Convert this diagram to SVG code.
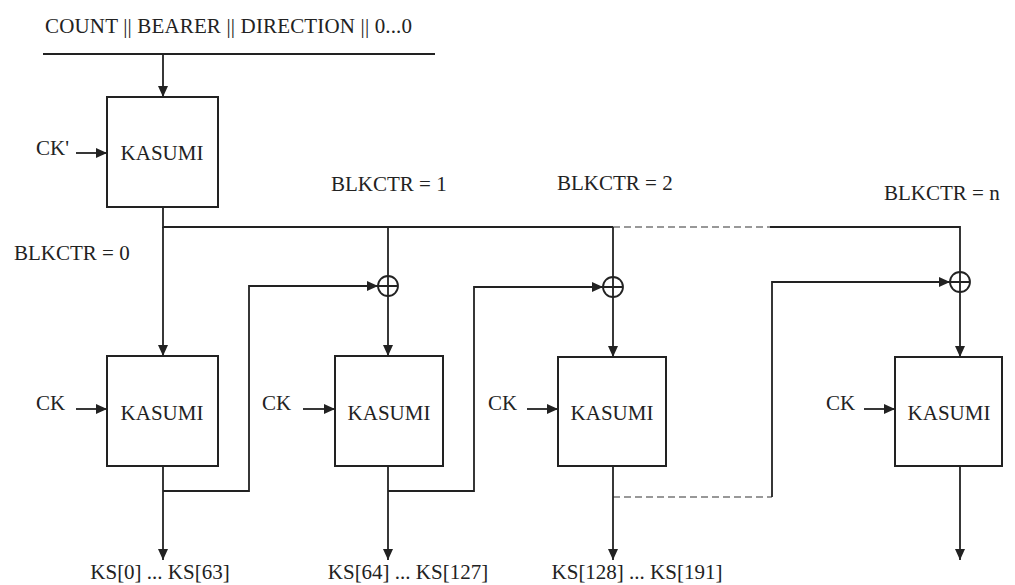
<svg xmlns="http://www.w3.org/2000/svg" width="1015" height="585" viewBox="0 0 1015 585">
<style>
svg text, text, .t{font-family:"Liberation Serif","Times New Roman",serif !important;font-size:21px;fill:#222}
.box{fill:#fff;stroke:#222;stroke-width:2}
.ln{fill:none;stroke:#222;stroke-width:1.8}
.arr{fill:none;stroke:#222;stroke-width:1.8;marker-end:url(#ah)}
.dash{fill:none;stroke:#777;stroke-width:1.3;stroke-dasharray:7 4}
.xor{fill:#fff;stroke:#222;stroke-width:1.8}
.mid{text-anchor:middle}
</style>
<defs>
<marker id="ah" markerWidth="12" markerHeight="10" refX="11" refY="5" orient="auto" markerUnits="userSpaceOnUse">
<path d="M0,0 L11,5 L0,10 Z" fill="#222"/>
</marker>
</defs>
<rect width="1015" height="585" fill="#fff"/>
<text class="t" x="45" y="33" textLength="367" style="font-family:'Liberation Serif'">COUNT || BEARER || DIRECTION || 0...0</text>
<g id="connectors">
<line class="ln" x1="43" y1="54" x2="435" y2="54"/>
<line class="arr" x1="163" y1="54" x2="163" y2="97"/>
<line class="arr" x1="76" y1="153" x2="107" y2="153"/>
<path class="ln" d="M163,207 V227 H613"/>
<line class="dash" x1="613" y1="227" x2="770" y2="227"/>
<path class="ln" d="M770,227 H960 V272"/>
<line class="arr" x1="163" y1="227" x2="163" y2="356"/>
<line class="ln" x1="388" y1="227" x2="388" y2="276"/>
<line class="arr" x1="388" y1="296" x2="388" y2="356"/>
<line class="ln" x1="613" y1="227" x2="613" y2="277"/>
<line class="arr" x1="613" y1="297" x2="613" y2="357"/>
<line class="arr" x1="960" y1="292" x2="960" y2="357"/>
<line class="arr" x1="76" y1="409" x2="107" y2="409"/>
<line class="arr" x1="303" y1="409" x2="335" y2="409"/>
<line class="arr" x1="527" y1="409" x2="558" y2="409"/>
<line class="arr" x1="864" y1="409" x2="895" y2="409"/>
<path class="arr" d="M163,491 H249 V286 H378"/>
<path class="arr" d="M388,491 H474 V287 H603"/>
<line class="dash" x1="613" y1="497" x2="772" y2="497"/>
<path class="arr" d="M772,497 V282 H950"/>
<line class="arr" x1="163" y1="466" x2="163" y2="560"/>
<line class="arr" x1="388" y1="466" x2="388" y2="560"/>
<line class="arr" x1="613" y1="466" x2="613" y2="560"/>
<line class="arr" x1="960" y1="466" x2="960" y2="560"/>
</g>
<g id="kasumi0"><rect class="box" x="107" y="97" width="111" height="110"/><text class="t mid" x="162" y="160">KASUMI</text></g>
<g id="ckprime"><text class="t" x="36" y="155">CK'</text></g>
<g id="kasumi1"><rect class="box" x="107" y="356" width="111" height="110"/><text class="t mid" x="162" y="420">KASUMI</text></g>
<g id="kasumi2"><rect class="box" x="335" y="356" width="108" height="110"/><text class="t mid" x="389" y="420">KASUMI</text></g>
<g id="kasumi3"><rect class="box" x="558" y="357" width="108" height="109"/><text class="t mid" x="612" y="420">KASUMI</text></g>
<g id="kasumi4"><rect class="box" x="895" y="357" width="107" height="109"/><text class="t mid" x="949" y="420">KASUMI</text></g>
<g id="xor1"><circle class="xor" cx="388" cy="286" r="10"/><path class="ln" d="M378,286 H398 M388,276 V296"/></g>
<g id="xor2"><circle class="xor" cx="613" cy="287" r="10"/><path class="ln" d="M603,287 H623 M613,277 V297"/></g>
<g id="xorn"><circle class="xor" cx="960" cy="282" r="10"/><path class="ln" d="M950,282 H970 M960,272 V292"/></g>
<g id="labels">
<text class="t" x="14" y="260">BLKCTR = 0</text>
<text class="t" x="331" y="191">BLKCTR = 1</text>
<text class="t" x="557" y="190">BLKCTR = 2</text>
<text class="t" x="884" y="200">BLKCTR = n</text>
<text class="t" x="36" y="410">CK</text>
<text class="t" x="262" y="410">CK</text>
<text class="t" x="488" y="410">CK</text>
<text class="t" x="826" y="410">CK</text>
<text class="t mid" x="160" y="579">KS[0] ... KS[63]</text>
<text class="t mid" x="408" y="579">KS[64] ... KS[127]</text>
<text class="t mid" x="637" y="579">KS[128] ... KS[191]</text>
</g>
</svg>
